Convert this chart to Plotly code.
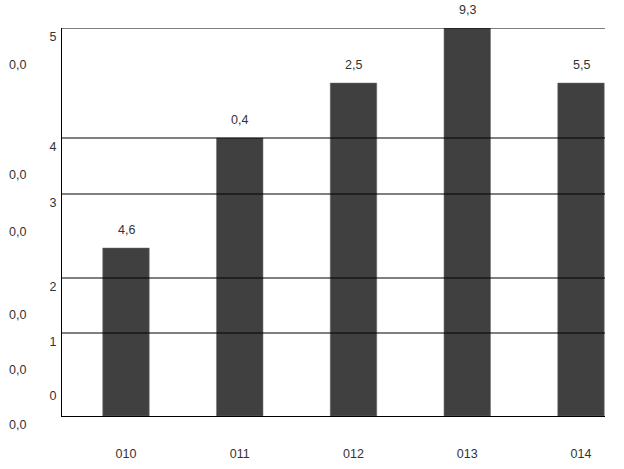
import plotly.graph_objects as go

# categories and bar heights (axis units = plot height in px)
years = ['010', '011', '012', '013', '014']
bar_heights = [168, 278, 333, 388, 333]
bar_labels = ['4,6', '0,4', '2,5', '9,3', '5,5']

# horizontal rules and y tick labels
grid_vals = [388, 278, 222, 138, 83]
ytick_vals = [388, 278, 222, 138, 83, 29]
ytick_text = ['5', '4', '3', '2', '1', '0']

# stray left-hand labels
left_vals = [351, 241, 184, 101, 46, -9]
left_text = ['0,0'] * 6

font = dict(family='Liberation Sans', size=12.5, color='#333333')
y_top = 388.0

fig = go.Figure()
fig.add_trace(go.Bar(x=years, y=bar_heights, width=0.409,
                     marker=dict(color='#404040', line=dict(color='#707070', width=0.5)),
                     hoverinfo='skip'))

for v in grid_vals:
    fig.add_shape(type='line', xref='paper', x0=0, x1=1, yref='y', y0=v, y1=v,
                  line=dict(color='black', width=1), layer='above')

# value labels above bars (paper y so the top one is not hidden)
for i, (h, t) in enumerate(zip(bar_heights, bar_labels)):
    fig.add_annotation(x=i, xref='x', y=h / y_top, yref='paper', text=t,
                       showarrow=False, yshift=18, yanchor='middle', font=font)

for v, t in zip(left_vals, left_text):
    fig.add_annotation(xref='paper', x=0, yref='paper', y=v / y_top, text=t,
                       showarrow=False, xanchor='left', xshift=-55,
                       yanchor='middle', font=font)

fig.update_layout(
    width=624, height=469,
    margin=dict(l=62, r=19, t=28, b=53, autoexpand=False),
    paper_bgcolor='white', plot_bgcolor='white',
    showlegend=False, font=font, hovermode=False,
    xaxis=dict(type='category', range=[-0.5626, 4.211], showgrid=False,
               showline=True, linecolor='black', linewidth=1,
               ticks='', ticklabelstandoff=26, tickfont=font),
    yaxis=dict(range=[0, y_top], showgrid=False, zeroline=False,
               showline=True, linecolor='black', linewidth=1,
               tickvals=ytick_vals, ticktext=ytick_text,
               ticklabelposition='outside bottom', ticks='',
               ticklabelstandoff=2, tickfont=font),
)

# drop the page's default body margin so the figure sits at the top-left corner
fig.write_html("out.html", config={'displayModeBar': False},
               post_script="document.body.style.margin='0';")
